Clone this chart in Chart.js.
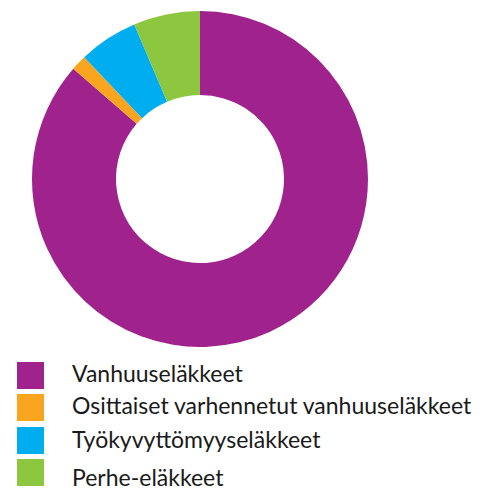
<!DOCTYPE html>
<html>
<head>
<meta charset="utf-8">
<script src="https://cdn.jsdelivr.net/npm/chart.js@4"></script>
<style>
  html, body { margin: 0; padding: 0; background: #fff; }
  body { width: 484px; height: 491px; position: relative; overflow: hidden; }
  #wrap { position: absolute; left: 0; top: 0; width: 400px; height: 358px; }
  .sw { position: absolute; left: 17px; width: 27px; height: 27px; }
  .tx { position: absolute; left: 72px; white-space: nowrap;
        font-family: Lato, sans-serif; font-size: 23px; line-height: 27px; color: #1a1a1a; }
</style>
</head>
<body>
<div id="wrap"><canvas id="c"></canvas></div>
<div id="legend"></div>
<script>
const categories = ["Vanhuuseläkkeet", "Osittaiset varhennetut vanhuuseläkkeet", "Työkyvyttömyyseläkkeet", "Perhe-eläkkeet"];
const shares = [86.4, 1.5, 5.7, 6.4];
const colors = ["#A0228C", "#F9A51F", "#00AEEF", "#8DC63F"];

new Chart(document.getElementById("c"), {
  type: "doughnut",
  data: {
    labels: categories,
    datasets: [{ data: shares, backgroundColor: colors, borderWidth: 0, hoverOffset: 0 }]
  },
  options: {
    responsive: true,
    maintainAspectRatio: false,
    animation: false,
    cutout: "50%",
    layout: { padding: 11 },
    plugins: { legend: { display: false }, tooltip: { enabled: false } }
  }
});

// legend layout (positions only)
const swatchTops = [362, 394.3, 426.7, 459];
const textBaselines = [382, 414.7, 448.7, 486.7];
const leg = document.getElementById("legend");
categories.forEach((name, i) => {
  const sw = document.createElement("div");
  sw.className = "sw";
  sw.style.top = swatchTops[i] + "px";
  sw.style.background = colors[i];
  const tx = document.createElement("div");
  tx.className = "tx";
  tx.style.top = (textBaselines[i] - 22.4) + "px";
  tx.textContent = name;
  leg.appendChild(sw);
  leg.appendChild(tx);
});
</script>
</body>
</html>
